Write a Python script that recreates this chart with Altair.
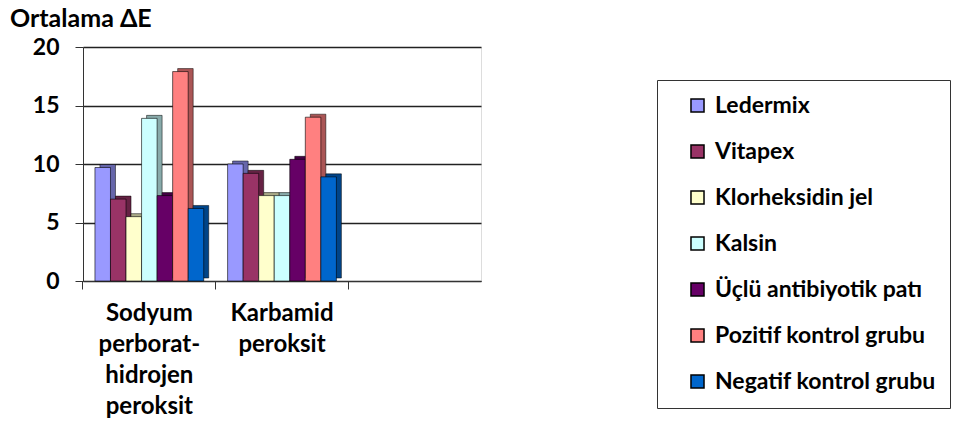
import altair as alt
import pandas as pd

categories = ["Sodyum|perborat-|hidrojen|peroksit", "Karbamid|peroksit", " "]
series = ["Ledermix", "Vitapex", "Klorheksidin jel", "Kalsin",
          "Üçlü antibiyotik patı", "Pozitif kontrol grubu", "Negatif kontrol grubu"]
values_sodyum = [9.7, 7.0, 5.5, 13.9, 7.3, 17.9, 6.2]
values_karbamid = [10.0, 9.2, 7.3, 7.3, 10.4, 14.0, 8.9]
colors = ["#9999FF", "#993366", "#FFFFCC", "#CCFFFF", "#660066", "#FF8080", "#0066CC"]
side_colors = ["#6666AA", "#662244", "#AAAA88", "#88AAAA", "#440044", "#AA5555", "#004488"]
y_ticks = [0, 5, 10, 15, 20]

rows = []
for cat, vals in [(categories[0], values_sodyum), (categories[1], values_karbamid)]:
    for s, v in zip(series, vals):
        rows.append({"Kategori": cat, "Grup": s, "Grup2": s + " ", "DeltaE": v})
df = pd.DataFrame(rows)

FONT = "Lato"
W, H = 398, 234
P_IN = 0.18
BANDW = W / 3 * (1 - P_IN)
DEPTH_X, DEPTH_Y = 5, 3

x_enc = alt.X("Kategori:N", sort=categories,
              scale=alt.Scale(domain=categories, paddingInner=P_IN, paddingOuter=P_IN / 2),
              axis=alt.Axis(title=None, labelAngle=0, bandPosition=-0.11, tickSize=8,
                            tickColor="#333333", domainColor="#333333",
                            labelExpr="split(datum.label, '|')",
                            labelFontSize=24, labelFont=FONT, labelFontWeight="bold",
                            labelColor="black", labelPadding=12, labelLineHeight=31,
                            labelBaseline="top"))
y_enc = alt.Y("DeltaE:Q", scale=alt.Scale(domain=[0, 20]),
              axis=alt.Axis(title=None, values=y_ticks, tickSize=8, tickColor="#333333",
                            domainColor="#333333", grid=True, gridColor="#222222",
                            gridWidth=1.5, labelFontSize=23, labelFont=FONT,
                            labelFontWeight="bold", labelColor="black", labelPadding=16))

back = alt.Chart(df).mark_bar(yOffset=-DEPTH_Y, stroke="black", strokeWidth=0.5).encode(
    x=x_enc, y=y_enc,
    xOffset=alt.XOffset("Grup:N", sort=series,
                        scale=alt.Scale(domain=series, paddingInner=0, paddingOuter=0,
                                        range=[DEPTH_X, BANDW + DEPTH_X])),
    color=alt.Color("Grup2:N", sort=[s + " " for s in series],
                    scale=alt.Scale(domain=[s + " " for s in series], range=side_colors),
                    legend=None),
)

front = alt.Chart(df).mark_bar(stroke="black", strokeWidth=0.6).encode(
    x=x_enc, y=y_enc,
    xOffset=alt.XOffset("Grup:N", sort=series,
                        scale=alt.Scale(domain=series, paddingInner=0, paddingOuter=0,
                                        range=[0, BANDW])),
    color=alt.Color("Grup:N", sort=series,
                    scale=alt.Scale(domain=series, range=colors),
                    legend=alt.Legend(title=None, orient="none", legendX=574, legendY=33,
                                      symbolType="square", symbolSize=170,
                                      symbolStrokeColor="black", symbolStrokeWidth=1.5,
                                      symbolOpacity=1,
                                      labelFont=FONT, labelFontSize=23, labelFontWeight="bold",
                                      labelColor="black", labelLimit=400, labelOffset=6,
                                      rowPadding=22, padding=14, symbolOffset=15,
                                      strokeColor="#333333", fillColor="white")),
)

chart = alt.layer(back, front).resolve_scale(color="independent", xOffset="independent").properties(
    width=W, height=H,
    autosize=alt.AutoSizeParams(type="none"),
    padding={"left": 83, "top": 47, "right": 481, "bottom": 156},
    title=alt.TitleParams("Ortalama ΔE", anchor="start", frame="group", dx=-73, offset=4,
                          font=FONT, fontSize=25, fontWeight="bold", color="black"),
).configure_view(fill="#C0C0C0", stroke="#333333", strokeWidth=1.5).configure(background="white")

chart.save("out.html", embed_options={"renderer": "svg", "actions": False})
